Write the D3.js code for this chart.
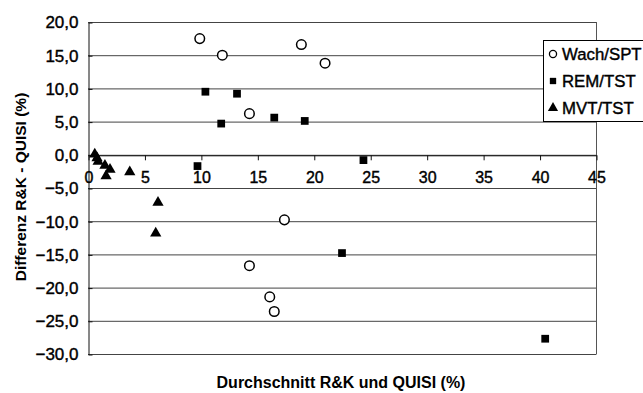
<!DOCTYPE html>
<html>
<head>
<meta charset="utf-8">
<script src="https://cdn.jsdelivr.net/npm/d3@7"></script>
<style>
  body { margin: 0; background: #fff; }
  svg text { font-family: "Liberation Sans", Arial, sans-serif; fill: #000; }
</style>
</head>
<body>
<div id="chart"></div>
<script>
// Wach/SPT (open circles)
const wachX = [9.9, 11.9, 18.9, 21.0, 14.3, 17.4, 14.3, 16.1, 16.5];
const wachY = [17.5, 15.0, 16.6, 13.8, 6.2, -9.8, -16.7, -21.4, -23.6];
// REM/TST (filled squares)
const remX = [10.4, 13.2, 11.8, 16.5, 19.2, 9.7, 24.4, 22.5, 40.5];
const remY = [9.5, 9.2, 4.7, 5.6, 5.1, -1.7, -0.8, -14.8, -27.7];
// MVT/TST (filled triangles)
const mvtX = [0.6, 0.8, 0.9, 1.5, 1.95, 1.6, 3.7, 6.2, 6.0];
const mvtY = [0.1, -0.5, -1.0, -1.6, -2.2, -3.2, -2.6, -7.2, -11.8];

const seriesNames = ["Wach/SPT", "REM/TST", "MVT/TST"];
const xTicks = [0, 5, 10, 15, 20, 25, 30, 35, 40, 45];
const yTicks = [20, 15, 10, 5, 0, -5, -10, -15, -20, -25, -30];

const width = 643, height = 393;
const svg = d3.select("#chart").append("svg")
  .attr("width", width)
  .attr("height", height);

const x = d3.scaleLinear().domain([0, 45]).range([88, 596]);
const y = d3.scaleLinear().domain([-30, 20]).range([354, 22]);

// gridlines
svg.append("g")
  .selectAll("line")
  .data(yTicks)
  .join("line")
  .attr("x1", x(0)).attr("x2", x(45))
  .attr("y1", d => y(d) + 0.5).attr("y2", d => y(d) + 0.5)
  .attr("stroke", "#444")
  .attr("stroke-width", 1);

// plot border right
svg.append("line")
  .attr("x1", x(45) + 0.5).attr("x2", x(45) + 0.5)
  .attr("y1", y(20)).attr("y2", y(-30) + 0.5)
  .attr("stroke", "#555");

// y axis, ticks crossing the line
const yAxis = svg.append("g")
  .attr("transform", `translate(${x(0) + 0.5},0.5)`)
  .call(d3.axisLeft(y).tickValues(yTicks).tickSize(4).tickPadding(6).tickSizeOuter(0)
    .tickFormat(d => d3.format(".1f")(d).replace(".", ",")));
yAxis.selectAll(".tick line").attr("x2", 4);
yAxis.selectAll("path, line").attr("stroke", "#111");
yAxis.selectAll("text")
  .style("font-size", "17px")
  .style("font-family", "'Liberation Sans', Arial, sans-serif")
  .attr("stroke", "#000").attr("stroke-width", 0.4);

// x axis along y = 0
const xAxis = svg.append("g")
  .attr("transform", `translate(0.5,${y(0) + 0.5})`)
  .call(d3.axisBottom(x).tickValues(xTicks).tickSize(5).tickPadding(11).tickSizeOuter(0));
xAxis.selectAll("path, line").attr("stroke", "#111");
xAxis.selectAll("text")
  .style("font-size", "16px")
  .style("font-family", "'Liberation Sans', Arial, sans-serif")
  .attr("stroke", "#000").attr("stroke-width", 0.4);

// points
const circ = d3.symbol().type(d3.symbolCircle).size(72);
const sq = d3.symbol().type(d3.symbolSquare).size(60);
const tri = d3.symbol().type(d3.symbolTriangle).size(55);

svg.append("g").selectAll("path")
  .data(d3.zip(wachX, wachY))
  .join("path")
  .attr("transform", d => `translate(${x(d[0])},${y(d[1])})`)
  .attr("d", circ)
  .attr("fill", "#fff")
  .attr("stroke", "#000")
  .attr("stroke-width", 1.5);

svg.append("g").selectAll("path")
  .data(d3.zip(remX, remY))
  .join("path")
  .attr("transform", d => `translate(${x(d[0])},${y(d[1])})`)
  .attr("d", sq)
  .attr("fill", "#000");

svg.append("g").selectAll("path")
  .data(d3.zip(mvtX, mvtY))
  .join("path")
  .attr("transform", d => `translate(${x(d[0])},${y(d[1])})`)
  .attr("d", tri)
  .attr("fill", "#000");

// legend
const legend = svg.append("g").attr("transform", "translate(543,40)");
legend.append("rect")
  .attr("x", 0.5).attr("y", 0.5)
  .attr("width", 120).attr("height", 81)
  .attr("fill", "#fff")
  .attr("stroke", "#000");
const legSyms = [
  d3.symbol().type(d3.symbolCircle).size(40),
  d3.symbol().type(d3.symbolSquare).size(40),
  d3.symbol().type(d3.symbolTriangle).size(45)
];
seriesNames.forEach((name, i) => {
  const cy = 14 + i * 27;
  legend.append("path")
    .attr("transform", `translate(10,${cy})`)
    .attr("d", legSyms[i])
    .attr("fill", i === 0 ? "#fff" : "#000")
    .attr("stroke", "#000")
    .attr("stroke-width", i === 0 ? 1.3 : 0);
  legend.append("text")
    .attr("x", 19).attr("y", cy + 6)
    .style("font-size", "16.8px")
    .attr("stroke", "#000").attr("stroke-width", 0.4)
    .text(name);
});

// axis titles
svg.append("text")
  .attr("x", 341).attr("y", 388)
  .attr("text-anchor", "middle")
  .style("font-size", "16px")
  .style("font-weight", "bold")
  .text("Durchschnitt R&K und QUISI (%)");

svg.append("text")
  .attr("transform", "translate(26,187) rotate(-90)")
  .attr("text-anchor", "middle")
  .style("font-size", "15.5px")
  .style("font-weight", "bold")
  .text("Differenz R&K - QUISI (%)");
</script>
</body>
</html>
